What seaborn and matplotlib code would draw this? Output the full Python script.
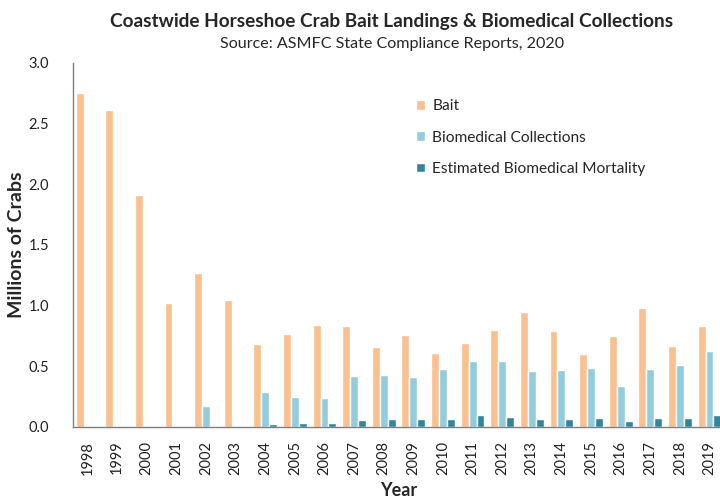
import pandas as pd
import numpy as np
import matplotlib
matplotlib.use('Agg')
import matplotlib.pyplot as plt
import seaborn as sns

# Values (millions of crabs)
years = [str(y) for y in range(1998, 2020)]
bait = [2.75, 2.61, 1.91, 1.02, 1.27, 1.05, 0.68, 0.77, 0.84, 0.83, 0.66,
        0.76, 0.61, 0.69, 0.80, 0.95, 0.79, 0.60, 0.75, 0.98, 0.67, 0.83]
biomedical = [0.0, 0.0, 0.0, 0.005, 0.17, 0.0, 0.29, 0.25, 0.24, 0.42, 0.43,
              0.41, 0.48, 0.54, 0.54, 0.46, 0.47, 0.49, 0.34, 0.48, 0.51, 0.63]
mortality = [0.0, 0.0, 0.0, 0.006, 0.007, 0.0, 0.025, 0.036, 0.036, 0.06, 0.067,
             0.063, 0.069, 0.099, 0.08, 0.069, 0.069, 0.074, 0.047, 0.074, 0.074, 0.099]
series = ['Bait', 'Biomedical Collections', 'Estimated Biomedical Mortality']
colors = ['#FAC090', '#93CDDD', '#31859C']

df = pd.DataFrame({'Year': years * 3,
                   'Series': np.repeat(series, len(years)),
                   'Crabs': bait + biomedical + mortality})

sns.set_style('white')
plt.rcParams['font.family'] = ['Lato', 'DejaVu Sans']

fig = plt.figure(figsize=(7.2, 4.98), dpi=100)
ax = fig.add_axes([0.101, 0.1426, 0.905, 0.7309])

sns.barplot(data=df, x='Year', y='Crabs', hue='Series', palette=colors,
            width=0.8, saturation=1, ax=ax)

ax.set_ylim(0, 3.0)
ax.set_yticks(np.arange(0, 3.01, 0.5))
ax.set_yticklabels([f'{v:.1f}' for v in np.arange(0, 3.01, 0.5)], fontsize=10.5)
ax.set_xlim(-0.5, len(years) - 0.5)
ax.set_xticks(range(len(years)))
ax.set_xticklabels(years, rotation=90, fontsize=10.5)
ax.set_xticks(np.arange(-0.5, len(years)), minor=True)
ax.tick_params(axis='x', which='major', length=0, pad=10)
ax.tick_params(axis='x', which='minor', length=5, width=1, color='#7f7f7f', direction='out')
ax.tick_params(axis='y', length=5, width=1, color='#7f7f7f', direction='out', pad=12)
ax.tick_params(colors='#222222', which='major')

for s in ['top', 'right']:
    ax.spines[s].set_visible(False)
for s in ['left', 'bottom']:
    ax.spines[s].set_color('#7f7f7f')
    ax.spines[s].set_linewidth(1)

ax.set_ylabel('Millions of Crabs', fontsize=14, fontweight='bold')
ax.yaxis.set_label_coords(-0.073, 0.5)
ax.set_xlabel('Year', fontsize=13, fontweight='bold')
ax.xaxis.set_label_coords(0.5, -0.152)

leg = ax.legend(loc='upper left', bbox_to_anchor=(0.515, 0.922), frameon=False,
                fontsize=11.2, handlelength=0.6, handleheight=0.6, handletextpad=0.45,
                labelspacing=1.12, borderpad=0)

fig.text(0.544, 0.957, 'Coastwide Horseshoe Crab Bait Landings & Biomedical Collections',
         ha='center', va='center', fontsize=13.7, fontweight='bold')
fig.text(0.544, 0.912, 'Source: ASMFC State Compliance Reports, 2020',
         ha='center', va='center', fontsize=11.6)

fig.savefig('out.png', dpi=100)
